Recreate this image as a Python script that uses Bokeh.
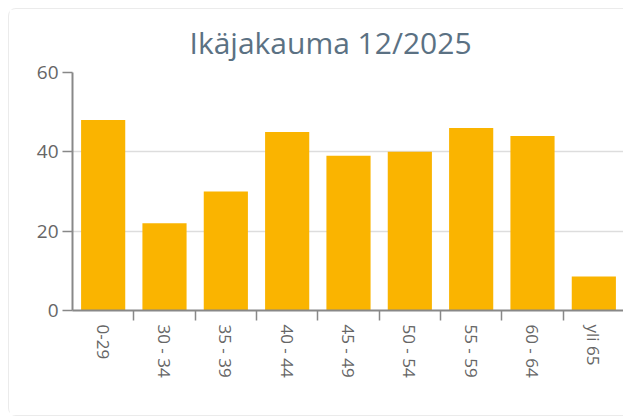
import math
from bokeh.plotting import figure
from bokeh.models import FixedTicker, ColumnDataSource, Range1d
from bokeh.embed import file_html
from bokeh.resources import INLINE

categories = ["0-29", "30 - 34", "35 - 39", "40 - 44", "45 - 49", "50 - 54", "55 - 59", "60 - 64", "yli 65"]
values = [48, 22, 30, 45, 39, 40, 46, 44, 8.6]
y_ticks = [0, 20, 40, 60]
title_text = "Ikäjakauma 12/2025"

xs = [i + 0.5 for i in range(len(categories))]
src = ColumnDataSource(dict(x=xs, top=values, cat=categories))

p = figure(width=615, height=408, output_backend="svg", toolbar_location=None,
           x_range=Range1d(0, len(categories)), y_range=Range1d(0, 60),
           min_border_left=63, min_border_right=0, min_border_top=62, min_border_bottom=107)
p.styles = {"margin-left": "8px", "margin-top": "8px",
            "border-left": "1px solid #ebebeb", "border-top": "1px solid #ebebeb",
            "border-bottom": "1px solid #ebebeb",
            "border-top-left-radius": "8px", "border-bottom-left-radius": "8px",
            "box-sizing": "border-box"}
p.outline_line_color = None
p.background_fill_color = "white"
p.border_fill_color = "white"

p.vbar(x="x", top="top", width=0.72, bottom=0, source=src, fill_color="#FAB400", line_color=None)

p.title.text = title_text
p.title.align = "left"
p.title.offset = 117
p.title.standoff = 20
p.title.text_font = "Open Sans"
p.title.text_font_size = "30px"
p.title.text_font_style = "normal"
p.title.text_color = "#5b7183"

xa = p.xaxis[0]
xa.ticker = FixedTicker(ticks=xs, minor_ticks=list(range(1, len(categories))))
xa.major_label_overrides = {x: c for x, c in zip(xs, categories)}
xa.major_label_orientation = -math.pi / 2
xa.major_tick_line_color = None
xa.minor_tick_in = 0
xa.minor_tick_out = 10
xa.minor_tick_line_color = "#888888"
xa.axis_line_color = "#888888"
xa.axis_line_width = 2
xa.minor_tick_line_width = 1.5
xa.major_label_text_font = "Open Sans"
xa.major_label_text_font_size = "17px"
xa.major_label_text_color = "#666666"
xa.major_label_standoff = 4

ya = p.yaxis[0]
ya.ticker = FixedTicker(ticks=y_ticks)
ya.minor_tick_line_color = None
ya.major_tick_in = 0
ya.major_tick_out = 10
ya.major_tick_line_color = "#888888"
ya.major_tick_line_width = 1.5
ya.axis_line_color = "#888888"
ya.axis_line_width = 2
ya.major_label_text_font = "Open Sans"
ya.major_label_text_font_size = "19px"
ya.major_label_text_color = "#666666"
ya.major_label_standoff = 4

p.xgrid.grid_line_color = None
p.ygrid.grid_line_color = "#dddddd"
p.ygrid.grid_line_width = 1.5

open("out.html", "w").write(file_html(p, INLINE))
